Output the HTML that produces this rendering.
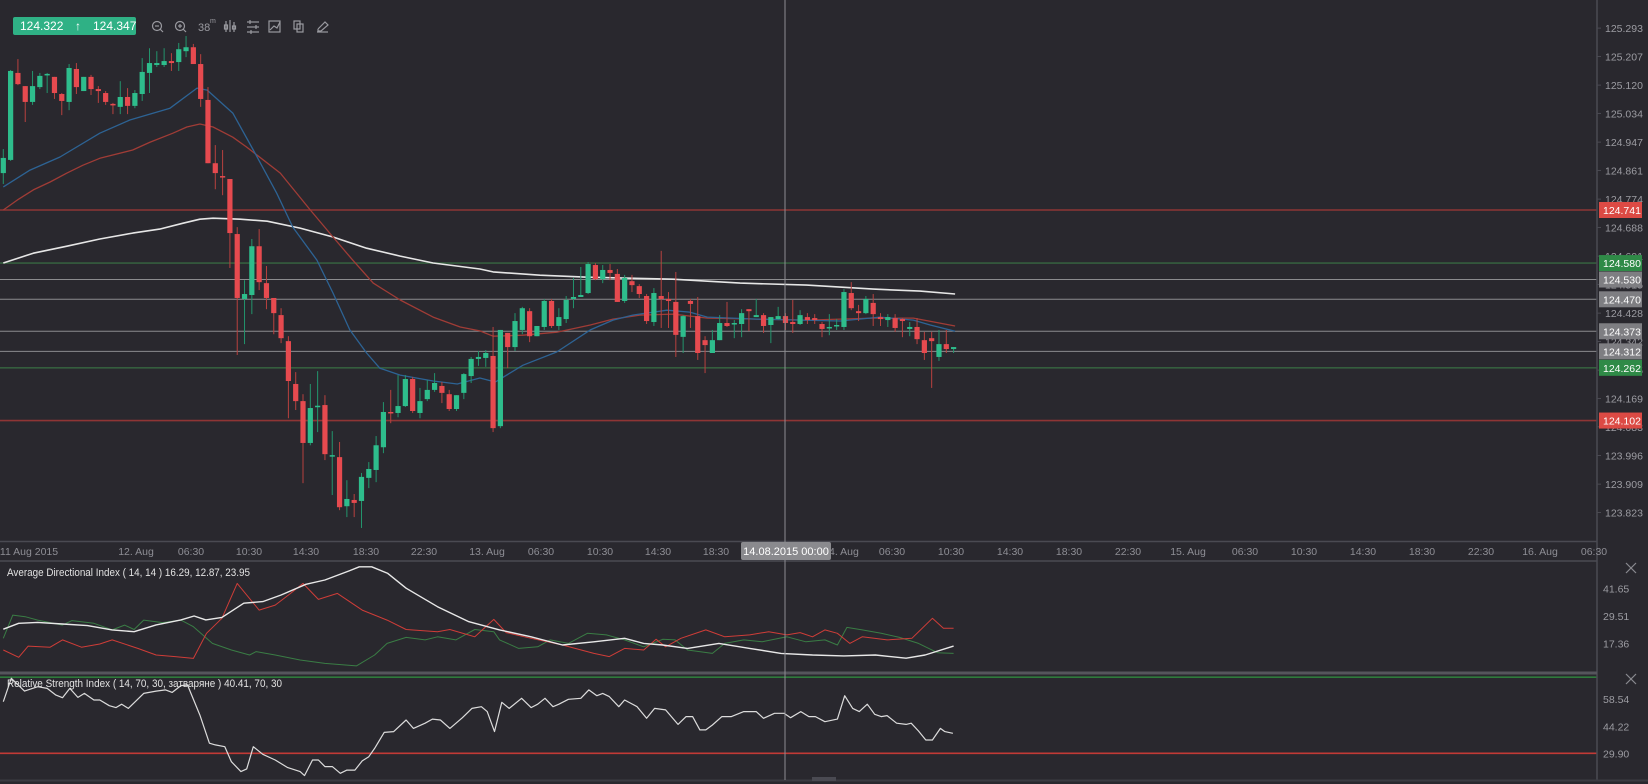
<!DOCTYPE html>
<html><head><meta charset="utf-8">
<style>
html,body{margin:0;padding:0;background:#29282e;overflow:hidden;}
svg{display:block;font-family:"Liberation Sans",sans-serif;}
</style></head>
<body>
<svg id="chart" width="1648" height="784" viewBox="0 0 1648 784" xmlns="http://www.w3.org/2000/svg">
<rect x="0" y="0" width="1648" height="784" fill="#29282e"/>
<g id="levels"></g>
<g id="mas"></g>
<g id="candles"></g>
<g id="adx"></g>
<g id="rsi"></g>
<g id="axes"></g>
<g id="toolbar">
  <rect x="13" y="17" width="123" height="18" rx="2" fill="#2fb185"/>
  <text x="20" y="30" font-size="12" fill="#fff">124.322</text>
  <text x="75" y="30" font-size="12" fill="#fff">↑</text>
  <text x="93" y="30" font-size="12" fill="#fff">124.347</text>
  <g stroke="#9a9aa0" fill="none" stroke-width="1.2">
    <g><circle cx="157" cy="26" r="4.5"/><line x1="160" y1="29" x2="163" y2="32"/><line x1="155" y1="26" x2="159" y2="26"/></g>
    <g><circle cx="180" cy="26" r="4.5"/><line x1="183" y1="29" x2="186" y2="32"/><line x1="178" y1="26" x2="182" y2="26"/><line x1="180" y1="24" x2="180" y2="28"/></g>
    <g><line x1="226" y1="21" x2="226" y2="32"/><line x1="230" y1="20" x2="230" y2="32"/><line x1="234" y1="22" x2="234" y2="32"/><rect x="224.5" y="25" width="3" height="4"/><rect x="232.5" y="26" width="3" height="3"/></g>
    <g><line x1="247" y1="22" x2="259" y2="22"/><line x1="247" y1="27" x2="259" y2="27"/><line x1="247" y1="32" x2="259" y2="32"/><line x1="250" y1="20" x2="250" y2="24"/><line x1="256" y1="25" x2="256" y2="29"/><line x1="251" y1="30" x2="251" y2="34"/></g>
    <g><rect x="269" y="21" width="11" height="11"/><polyline points="270,30 274,26 277,28 280,22"/></g>
    <g><rect x="294" y="21" width="6" height="8"/><rect x="297" y="24" width="6" height="8"/></g>
    <g><line x1="317" y1="32" x2="328" y2="32"/><polyline points="318,29 325,22 328,25 321,31 318,31 318,29"/></g>
  </g>
  <text x="198" y="31" font-size="11" fill="#9a9aa0">38</text>
  <text x="210" y="23" font-size="7" fill="#9a9aa0">m</text>
</g>
</svg>
<script>
// ---------- price data (30-minute candles) ----------
const opens = [124.853,124.893,125.157,125.117,125.069,125.114,125.151,125.145,125.093,125.069,
125.169,125.102,125.145,125.108,125.096,125.063,125.054,125.084,125.057,125.093,
125.157,125.181,125.181,125.193,125.190,125.223,125.235,125.184,125.075,124.883,
124.844,124.835,124.668,124.471,124.483,124.631,124.519,124.474,124.422,124.343,
124.213,124.161,124.034,124.144,124.149,123.996,123.991,123.842,123.861,123.858,
123.928,123.952,124.021,124.128,124.125,124.146,124.228,124.125,124.167,124.195,
124.207,124.182,124.137,124.186,124.237,124.289,124.292,124.298,124.085,124.368,
124.325,124.377,124.434,124.358,124.386,124.465,124.389,124.410,124.471,124.477,
124.489,124.574,124.531,124.559,124.547,124.465,124.525,124.510,124.480,124.401,
124.480,124.471,124.462,124.356,124.465,124.419,124.346,124.307,124.346,124.398,
124.395,124.395,124.440,124.416,124.422,124.392,124.410,124.419,124.401,124.395,
124.416,124.413,124.395,124.383,124.389,124.386,124.489,124.434,124.428,124.459,
124.416,124.407,124.413,124.410,124.380,124.386,124.346,124.352,124.295,124.334,124.319];
const closes = [124.899,125.163,125.123,125.069,125.117,125.148,125.154,125.096,125.072,125.172,
125.114,125.145,125.108,125.102,125.069,125.060,125.084,125.057,125.096,125.160,
125.187,125.187,125.193,125.187,125.229,125.235,125.184,125.078,124.883,124.853,
124.841,124.671,124.474,124.486,124.631,124.522,124.474,124.428,124.352,124.222,
124.161,124.034,124.140,124.147,124.000,123.997,123.839,123.864,123.852,123.931,
123.955,124.027,124.128,124.125,124.146,124.228,124.131,124.161,124.195,124.216,
124.186,124.137,124.179,124.243,124.289,124.295,124.307,124.079,124.377,124.325,
124.404,124.443,124.358,124.389,124.465,124.389,124.416,124.468,124.477,124.483,
124.577,124.531,124.559,124.550,124.462,124.535,124.513,124.486,124.404,124.489,
124.471,124.465,124.362,124.419,124.456,124.307,124.331,124.346,124.398,124.389,
124.398,124.428,124.434,124.422,124.389,124.416,124.419,124.398,124.395,124.422,
124.407,124.407,124.380,124.386,124.392,124.492,124.443,124.428,124.471,124.425,
124.410,124.416,124.383,124.404,124.386,124.349,124.307,124.343,124.334,124.319,124.325];
const highs = [124.926,125.166,125.199,125.117,125.163,125.157,125.157,125.145,125.096,125.184,
125.187,125.145,125.151,125.117,125.102,125.066,125.132,125.111,125.105,125.202,
125.232,125.223,125.232,125.217,125.248,125.269,125.245,125.214,125.114,124.938,
124.923,124.835,124.689,124.528,124.653,124.683,124.571,124.474,124.443,124.358,
124.249,124.182,124.213,124.252,124.179,124.070,124.037,123.921,123.879,123.943,
123.976,124.055,124.158,124.195,124.240,124.240,124.234,124.201,124.225,124.246,
124.219,124.195,124.179,124.246,124.295,124.313,124.316,124.386,124.377,124.368,
124.428,124.447,124.443,124.389,124.471,124.471,124.443,124.480,124.535,124.568,
124.583,124.580,124.574,124.577,124.562,124.544,124.544,124.516,124.486,124.504,
124.617,124.492,124.553,124.422,124.471,124.477,124.358,124.377,124.422,124.462,
124.407,124.440,124.440,124.471,124.428,124.416,124.447,124.428,124.468,124.437,
124.428,124.425,124.401,124.425,124.410,124.501,124.522,124.453,124.480,124.486,
124.428,124.425,124.425,124.413,124.401,124.413,124.371,124.371,124.377,124.377,124.325];
const lows = [124.820,124.890,125.120,125.008,125.060,125.108,125.096,125.078,125.029,125.044,
125.093,125.102,125.090,125.066,125.060,125.032,125.032,125.032,125.050,125.072,
125.096,125.175,125.175,125.163,125.163,125.205,125.184,125.054,124.883,124.804,
124.786,124.565,124.301,124.334,124.425,124.498,124.440,124.364,124.337,124.109,
124.134,123.912,124.027,124.067,123.982,123.876,123.830,123.809,123.809,123.776,
123.897,123.915,124.003,124.094,124.112,124.143,124.125,124.109,124.161,124.189,
124.155,124.131,124.131,124.167,124.216,124.268,124.265,124.067,124.079,124.261,
124.313,124.364,124.340,124.358,124.377,124.383,124.377,124.398,124.443,124.477,
124.486,124.528,124.519,124.528,124.462,124.459,124.492,124.474,124.395,124.389,
124.383,124.383,124.295,124.307,124.383,124.286,124.246,124.307,124.346,124.386,
124.352,124.355,124.374,124.416,124.368,124.337,124.407,124.377,124.368,124.392,
124.395,124.395,124.355,124.361,124.377,124.377,124.437,124.404,124.425,124.389,
124.389,124.386,124.371,124.355,124.358,124.334,124.286,124.201,124.283,124.307,124.307];

// moving averages (candle index, price)
const maBlueIdx = [0,3.65,7.75,13.2,17.3,22.8,26.5,27.9,31.4,34.2,37.4,39.6,42.9,45.1,47.4,49.7,51.5,54.3,58.8,62.1,65.2,67.3,71.1,75.7,80.3,83.4,86.1,90.8,93.9,96.3,103.1,114.5,119.9,124.5,126.8,130.2];
const maBlueVal = [124.811,124.862,124.902,124.974,125.014,125.050,125.111,125.105,125.035,124.923,124.792,124.689,124.589,124.489,124.377,124.307,124.261,124.240,124.222,124.213,124.231,124.219,124.270,124.310,124.377,124.407,124.422,124.437,124.431,124.416,124.410,124.404,124.416,124.407,124.392,124.373];
const maRedIdx = [0,1.9,4.1,6.4,8.7,10.9,13.2,17.7,20.1,23.2,25.1,26.9,28.7,31.4,33.3,37.9,42.0,45.1,47.8,50.6,54.3,58.8,62.5,65.2,67.0,71.1,75.7,80.3,83.4,87.1,91.6,96.3,109.9,119.0,124.5,130.2];
const maRedVal = [124.741,124.771,124.802,124.826,124.853,124.877,124.898,124.923,124.947,124.974,124.993,125.002,124.993,124.962,124.932,124.853,124.741,124.659,124.589,124.519,124.468,124.416,124.386,124.374,124.358,124.361,124.370,124.392,124.410,124.422,124.425,124.413,124.407,124.413,124.413,124.389];
const maWhiteIdx = [0,4.1,8.7,13.2,17.7,21.4,24.6,26.9,28.7,32.4,36.1,40.6,45.1,49.7,54.3,58.8,65.2,67.0,73.4,79.9,91.6,100.8,109.9,119.0,125.4,130.2];
const maWhiteVal = [124.580,124.610,124.631,124.653,124.671,124.683,124.701,124.713,124.716,124.713,124.707,124.686,124.659,124.625,124.601,124.580,124.562,124.553,124.543,124.537,124.531,124.519,124.513,124.501,124.495,124.486];

// horizontal levels
const levelPrices = [124.741,124.580,124.530,124.470,124.373,124.312,124.262,124.102];
const levelKinds  = ['red','green','gray','gray','gray','gray','green','red'];
// price axis ticks
const priceTicks = ['125.293','125.207','125.120','125.034','124.947','124.861','124.774','124.688','124.601','124.515','124.428','124.342','124.255','124.169','124.083','123.996','123.909','123.823'];

// time axis
const timeLabels = ['11 Aug 2015','12. Aug','06:30','10:30','14:30','18:30','22:30','13. Aug','06:30','10:30','14:30','18:30','14. Aug','06:30','10:30','14:30','18:30','22:30','15. Aug','06:30','10:30','14:30','18:30','22:30','16. Aug','06:30'];
const timeLabelX = [29,136,191,249,306,366,424,487,541,600,658,716,841,892,951,1010,1069,1128,1188,1245,1304,1363,1422,1481,1540,1594];

// ADX (candle index, value)
const adxIdx = [0,2.1,4.7,8.1,11.5,14.9,17.9,20.9,24.3,26.1,27.7,29.9,32.9,35.5,38,41.4,44,47.4,48.7,50.4,52.6,55.1,59.4,63.7,67.9,72.2,76.5,80.8,85,87.6,90.2,93.6,97.9,102.1,106.4,110.7,115,119.3,123.5,126.1,130];
const adxVal = [23.7,26.3,26.7,26.0,25.3,23.4,22.6,25.6,27.8,29.5,27.8,28.9,35.1,35.8,38.7,43.4,45.3,49.4,51.1,51.1,48.2,41.7,33.6,27.0,23.4,20.4,16.8,18.2,19.7,17.5,16.8,15.3,17.5,15.3,13.1,12.4,12.0,12.4,11.0,12.4,16.3];
const diMinusIdx = [0,2.1,3.4,6.4,8.1,10.7,13.2,14.9,18.4,20.9,23.5,26,27.8,29.9,32,35,37.2,39.3,41,43.1,45.7,49.1,52.5,55.1,59.4,61.1,64.5,67.1,68.8,72.2,76.5,80.8,82.9,85,87.6,89.3,90.6,92.7,96.1,98.7,102.1,104.7,107.2,109,110.7,112.4,114.1,115.8,117.5,120.9,124.3,127.1,128.6,130];
const diMinusVal = [14.6,11.4,16.3,15.8,19.0,15.8,17.2,19.0,15.3,12.4,11.7,10.9,21.9,28.5,43.8,32.1,34.3,39.4,43.8,36.8,39.4,32.1,27.7,23.6,22.6,23.6,20.4,28.0,22.2,19.7,16.8,13.1,11.7,15.3,14.6,19.3,16.0,19.7,23.4,20.4,21.2,22.6,21.2,22.2,20.4,23.4,21.9,17.5,20.4,19.0,19.7,28.5,24.1,24.1];
const diPlusIdx = [0,1.3,3,4.7,8.1,9.4,12.4,14.9,16.6,17.9,19.2,21.8,24.3,26,28.6,31.2,33.7,34.6,37.2,40.6,44,48.3,50.8,52.5,55.1,57.7,59.4,61.9,64.5,67.1,67.9,70.5,73.1,74.8,77.3,79.9,82.5,85,87.6,90.2,91.9,93.6,97,98.7,101.3,103.8,107.2,109.8,112.4,114.1,115.4,117.5,120.1,122.6,125.2,127.8,130];
const diPlusVal = [19.7,29.9,29.2,27.7,25.5,27.5,26.3,23.4,25.5,23.6,27.7,26.6,27.7,24.8,17.5,14.6,12.4,13.9,12.4,10.2,8.7,7.6,12.4,17.5,20.1,19.0,20.4,19.0,23.6,22.6,19.0,15.3,16.0,19.0,17.5,21.9,21.2,19.0,16.0,19.3,19.0,14.6,13.1,17.5,19.0,18.2,20.4,18.2,19.0,16.8,24.5,23.4,21.9,20.1,17.5,13.4,13.1];
const adxTicks = ['41.65','29.51','17.36'];

// RSI (candle index, value)
const rsiIdx = [0,1.1,2.9,4.7,6,7.2,8.1,9.1,10.2,11.1,12.4,13.2,14.5,15.4,16.2,17.1,19.2,20.9,22.2,23.1,24.3,25.2,26.9,28.2,29,30.3,31.2,32.5,33.3,34.2,35.5,37.2,38.9,40.6,41.2,42.3,43.1,44,45,46.1,47,48.1,49.1,50,50.8,52.1,53.4,55.1,56.1,57.7,58.7,59.8,61.1,62.8,64.1,65.4,66.2,67.2,68.2,69.2,70.9,72.2,73.1,74.1,75.2,76,77.3,79,80.1,81.2,82,82.9,84.2,85,86.7,88,89.1,90.6,92.3,93.4,94.3,95.3,96.1,97,98.3,99.6,101.3,103,104,105.5,106.8,107.7,109.1,110.2,111.1,112.4,114.1,115.1,116.2,117.1,118.2,119.2,120.1,120.9,122.2,123.5,124.2,125.2,126.2,127.1,128.2,128.8,129.9];
const rsiVal = [57.1,69.4,62.7,65.0,64.1,60.6,59.2,64.1,59.4,61.5,58.0,58.0,55.0,54.0,55.8,53.6,61.5,62.7,63.3,62.0,65.6,65.9,50.1,35.3,34.4,33.5,25.6,20.4,21.8,33.5,29.5,26.5,22.5,20.4,18.3,26.5,26.5,23.0,23.0,19.5,21.2,21.2,26.0,28.2,32.6,41.0,41.4,47.5,43.1,45.8,48.0,47.5,43.1,48.7,53.6,54.5,51.9,41.4,56.8,53.6,58.9,54.0,55.8,58.9,54.5,55.8,58.4,58.9,63.3,60.3,61.5,59.8,54.5,58.0,54.5,48.4,53.6,52.8,45.2,49.3,49.3,42.3,42.3,44.9,49.3,49.3,51.9,51.9,48.4,51.0,51.0,48.7,51.9,49.3,49.3,46.6,48.0,60.3,53.6,51.9,55.8,50.5,49.3,49.8,45.8,45.2,45.8,41.7,37.0,37.0,43.1,41.4,40.5];
const rsiTicks = ['58.54','44.22','29.90'];

// ---------- scales ----------
const NS = 'http://www.w3.org/2000/svg';
function xAt(i){ return 3.3 + 7.31*i; }
function yP(p){ return 210 + (124.741 - p)*329.5; }
function yAdx(v){ return 588.3 + (41.65 - v)*2.28; }
function yRsi(v){ return 699 + (58.54 - v)*1.903; }
function mk(tag, attrs, parent){
  const e = document.createElementNS(NS, tag);
  for (const k in attrs) e.setAttribute(k, attrs[k]);
  parent.appendChild(e); return e;
}
const svg = document.getElementById('chart');
const gLevels = document.getElementById('levels');
const gMas = document.getElementById('mas');
const gC = document.getElementById('candles');
const gAdx = document.getElementById('adx');
const gRsi = document.getElementById('rsi');
const gAx = document.getElementById('axes');

const levelColor = {red:'#8e3535', green:'#355e3e', gray:'#8b8b8e'};
const badgeColor = {red:'#dc4a44', green:'#2f8a47', gray:'#7e7e82'};

// levels
levelPrices.forEach((p,k)=>{
  const y = yP(p);
  const l = mk('line',{x1:0,x2:1597,y1:y,y2:y,stroke:levelColor[levelKinds[k]],'stroke-width':levelKinds[k]==='gray'?1:1.6},gLevels);
  
  
});

// moving averages
function polyline(idx, val, xf, yf, color, width, parent, name){
  const pts = idx.map((i,k)=> xf(i).toFixed(1)+','+yf(val[k]).toFixed(1)).join(' ');
  const pl = mk('polyline',{points:pts,fill:'none',stroke:color,'stroke-width':width,'stroke-linejoin':'round'},parent);
  
  
  return pl;
}
polyline(maWhiteIdx, maWhiteVal, xAt, yP, '#e6e6e6', 1.6, gMas, 'ma-white');
polyline(maRedIdx, maRedVal, xAt, yP, '#a03c36', 1.3, gMas, 'ma-red');
polyline(maBlueIdx, maBlueVal, xAt, yP, '#2d6394', 1.3, gMas, 'ma-blue');

// candles
for (let i=0;i<opens.length;i++){
  const up = closes[i] >= opens[i];
  const x = xAt(i);
  const g = mk('g',{},gC);
  
  
  mk('line',{x1:x,x2:x,y1:yP(highs[i]),y2:yP(lows[i]),stroke:up?'#23946c':'#b8413f','stroke-width':1},g);
  const yt = yP(Math.max(opens[i],closes[i])), yb = yP(Math.min(opens[i],closes[i]));
  mk('rect',{x:x-2.6,y:yt,width:5.2,height:Math.max(1.5,yb-yt),fill:up?'#2ebd8c':'#e64a4f'},g);
}

// ADX pane
polyline(diPlusIdx, diPlusVal, xAt, yAdx, '#3a7d45', 1, gAdx, 'adx-plus-di');
polyline(diMinusIdx, diMinusVal, xAt, yAdx, '#cf3d38', 1, gAdx, 'adx-minus-di');
polyline(adxIdx, adxVal, xAt, yAdx, '#e8e8e8', 1.4, gAdx, 'adx-line');

// RSI pane
mk('line',{x1:0,x2:1597,y1:yRsi(70),y2:yRsi(70),stroke:'#2f7a3c','stroke-width':1.6},gRsi);
mk('line',{x1:0,x2:1597,y1:yRsi(30),y2:yRsi(30),stroke:'#c23a36','stroke-width':1.6},gRsi);
polyline(rsiIdx, rsiVal, xAt, yRsi, '#dcdcdc', 1.2, gRsi, 'rsi-line');

// ---------- axes, borders ----------
const axisCol = '#4a4a52';
mk('line',{x1:1597,x2:1597,y1:0,y2:780,stroke:axisCol,'stroke-width':1.5},gAx);
mk('line',{x1:0,x2:1597,y1:541.5,y2:541.5,stroke:axisCol,'stroke-width':1.5},gAx);
mk('line',{x1:0,x2:1597,y1:561,y2:561,stroke:axisCol,'stroke-width':1.5},gAx);
mk('rect',{x:0,y:671.5,width:1597,height:3,fill:'#55555c'},gAx);
mk('line',{x1:0,x2:1648,y1:780.5,y2:780.5,stroke:'#3b3b42','stroke-width':2},gAx);

priceTicks.forEach(t=>{
  const y = yP(parseFloat(t));
  mk('line',{x1:1597,x2:1601,y1:y,y2:y,stroke:axisCol},gAx);
  const tx = mk('text',{x:1605,y:y+4,'font-size':10.5,fill:'#9c9ca2'},gAx);
  tx.textContent = t;
  
  
});
levelPrices.forEach((p,k)=>{
  const y = yP(p);
  const r = mk('rect',{x:1599,y:y-8,width:43,height:16,fill:badgeColor[levelKinds[k]]},gAx);
  
  
  const tx = mk('text',{x:1603,y:y+4,'font-size':10.5,fill:'#ffffff'},gAx);
  tx.textContent = p.toFixed(3);
  
  
});

timeLabels.forEach((t,k)=>{
  const tx = mk('text',{x:timeLabelX[k],y:555,'font-size':10.5,fill:'#8e8e95','text-anchor':'middle'},gAx);
  tx.textContent = t;
  
  
});

adxTicks.forEach(t=>{
  const tx = mk('text',{x:1603,y:yAdx(parseFloat(t))+4,'font-size':10.5,fill:'#9c9ca2'},gAx);
  tx.textContent = t;
  
  
});
rsiTicks.forEach(t=>{
  const tx = mk('text',{x:1603,y:yRsi(parseFloat(t))+4,'font-size':10.5,fill:'#9c9ca2'},gAx);
  tx.textContent = t;
  
  
});

// pane titles
const adxTitle = mk('text',{x:7,y:576,'font-size':11,fill:'#e2e2e2',textLength:243,lengthAdjust:'spacingAndGlyphs'},gAx);
adxTitle.textContent = 'Average Directional Index ( 14, 14 ) 16.29, 12.87, 23.95';


const rsiTitle = mk('text',{x:7,y:687,'font-size':11,fill:'#e2e2e2',textLength:275,lengthAdjust:'spacingAndGlyphs'},gAx);
rsiTitle.textContent = 'Relative Strength Index ( 14, 70, 30, затваряне ) 40.41, 70, 30';



// close buttons
[568,679].forEach((cy,k)=>{
  const g = mk('g',{stroke:'#8a8a90','stroke-width':1.2},gAx);
  
  
  mk('line',{x1:1626,y1:cy-5,x2:1636,y2:cy+5},g);
  mk('line',{x1:1636,y1:cy-5,x2:1626,y2:cy+5},g);
});

// crosshair
const ch = mk('line',{x1:785,x2:785,y1:0,y2:780,stroke:'#8d8d92','stroke-width':1},gAx);


const chBox = mk('rect',{x:741,y:542,width:90,height:18,rx:2,fill:'#8a8a8e'},gAx);


const chTxt = mk('text',{x:786,y:555,'font-size':11,fill:'#ffffff','text-anchor':'middle'},gAx);
chTxt.textContent = '14.08.2015 00:00';


const handle = mk('rect',{x:812,y:777,width:24,height:4,fill:'#4a4a52'},gAx);



// toolbar on top
svg.appendChild(document.getElementById('toolbar'));
</script>
</body></html>
